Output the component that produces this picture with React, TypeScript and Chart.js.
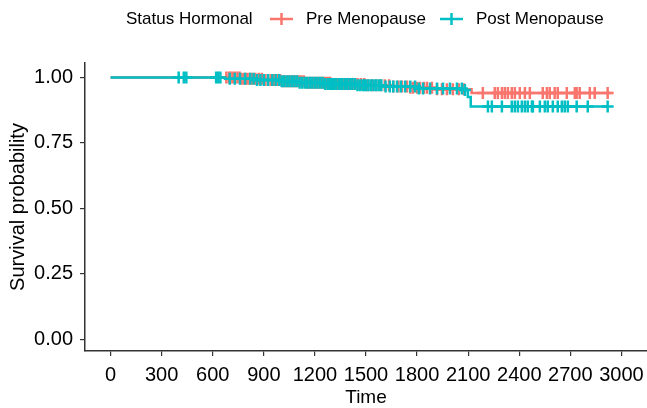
import React, { useEffect, useRef } from "react";
import { Chart, registerables } from "chart.js";

Chart.register(...registerables);

const legendTitle = "Status Hormonal";
const groupNames = ["Pre Menopause", "Post Menopause"];
const groupColors = ["#F8766D", "#00BFC4"];

const xTicks = [0, 300, 600, 900, 1200, 1500, 1800, 2100, 2400, 2700, 3000];
const yTicks = [0, 0.25, 0.5, 0.75, 1];

// Pre Menopause step curve
const preTimes = [0, 760, 900, 1000, 1150, 1300, 1500, 1650, 1750, 1900, 2120, 2942];
const preSurv = [1.0, 0.995, 0.99, 0.985, 0.98, 0.975, 0.97, 0.965, 0.96, 0.955, 0.94, 0.94];
const preCensor = [
  680, 695, 705, 718, 730, 745, 758, 770, 785, 800, 815, 830, 850, 870, 888, 905, 922, 940,
  960, 980, 995, 1010, 1025, 1040, 1052, 1065, 1078, 1090, 1105, 1120, 1135, 1150, 1165,
  1180, 1195, 1210, 1225, 1240, 1252, 1265, 1278, 1290, 1305, 1320, 1332, 1345, 1358, 1370,
  1385, 1400, 1415, 1430, 1450, 1470, 1490, 1510, 1535, 1560, 1585, 1610, 1635, 1660, 1690,
  1711, 1741, 1760, 1776, 1800, 1817, 1840, 1858, 1887, 1917, 1946, 1975, 2010, 2045, 2075,
  2186, 2256, 2274, 2298, 2315, 2333, 2356, 2374, 2403, 2433, 2462, 2538, 2562, 2579,
  2608, 2626, 2679, 2726, 2737, 2755, 2814, 2843, 2919,
];

// Post Menopause step curve
const postTimes = [0, 700, 850, 1000, 1100, 1250, 1450, 1600, 1800, 2080, 2098, 2115, 2920];
const postSurv = [1.0, 0.995, 0.99, 0.985, 0.98, 0.975, 0.97, 0.965, 0.958, 0.952, 0.925, 0.889, 0.889];
const postCensor = [
  400, 430, 445, 620, 632, 645, 700, 730, 760, 790, 820, 840, 860, 880, 900, 925, 950, 970,
  990, 1005, 1020, 1035, 1050, 1065, 1080, 1095, 1110, 1125, 1140, 1155, 1170, 1185, 1200,
  1215, 1230, 1245, 1260, 1275, 1290, 1300, 1310, 1325, 1340, 1350, 1360, 1375, 1390, 1405,
  1420, 1435, 1450, 1465, 1480, 1490, 1500, 1515, 1530, 1545, 1560, 1575, 1590, 1615, 1640,
  1660, 1682, 1705, 1730, 1760, 1788, 1810, 1835, 1876, 1917, 1952, 1993, 2034, 2063,
  2081, 2216, 2239, 2298, 2356, 2374, 2392, 2415, 2433, 2450, 2474, 2480, 2521, 2550,
  2567, 2597, 2626, 2650, 2667, 2685, 2737, 2802, 2919,
];

const FONT = "'Liberation Sans', Arial, sans-serif";

function survAt(times: number[], surv: number[], t: number) {
  let s = surv[0];
  for (let i = 0; i < times.length; i++) {
    if (times[i] <= t) s = surv[i];
  }
  return s;
}

const legendPlugin = {
  id: "kmLegend",
  afterDraw(chart: any) {
    const ctx = chart.ctx;
    ctx.save();
    ctx.font = `17px ${FONT}`;
    ctx.fillStyle = "#000";
    ctx.textBaseline = "middle";
    const cy = 19;
    ctx.fillText(legendTitle, 126, cy);
    const keys = [
      { kx: 270, tx: 306 },
      { kx: 440, tx: 476 },
    ];
    keys.forEach((k, i) => {
      ctx.strokeStyle = groupColors[i];
      ctx.lineWidth = 2.5;
      ctx.beginPath();
      ctx.moveTo(k.kx, cy);
      ctx.lineTo(k.kx + 23, cy);
      ctx.stroke();
      ctx.lineWidth = 2.5;
      ctx.beginPath();
      ctx.moveTo(k.kx + 11.5, cy - 6);
      ctx.lineTo(k.kx + 11.5, cy + 6);
      ctx.stroke();
      ctx.fillStyle = "#000";
      ctx.fillText(groupNames[i], k.tx, cy);
    });
    ctx.restore();
  },
};

export default function App() {
  const ref = useRef<HTMLCanvasElement>(null);
  useEffect(() => {
    if (!ref.current) return;
    const lineData = (times: number[], surv: number[]) => times.map((t, i) => ({ x: t, y: surv[i] }));
    const censorData = (c: number[], times: number[], surv: number[]) =>
      c.map((t) => ({ x: t, y: survAt(times, surv, t) }));
    const chart = new Chart(ref.current, {
      type: "line",
      data: {
        datasets: [
          {
            label: groupNames[0],
            data: lineData(preTimes, preSurv),
            borderColor: groupColors[0],
            borderWidth: 2.5,
            stepped: "before",
            pointRadius: 0,
            fill: false,
            order: 3,
          },
          {
            label: groupNames[1],
            data: lineData(postTimes, postSurv),
            borderColor: groupColors[1],
            borderWidth: 2.5,
            stepped: "before",
            pointRadius: 0,
            fill: false,
            order: 2,
          },
          {
            label: groupNames[0] + " censor",
            data: censorData(preCensor, preTimes, preSurv),
            showLine: false,
            pointStyle: "cross",
            pointRadius: 6,
            pointBorderWidth: 2.5,
            borderColor: groupColors[0],
            backgroundColor: groupColors[0],
            order: 1,
          },
          {
            label: groupNames[1] + " censor",
            data: censorData(postCensor, postTimes, postSurv),
            showLine: false,
            pointStyle: "cross",
            pointRadius: 6,
            pointBorderWidth: 2.5,
            borderColor: groupColors[1],
            backgroundColor: groupColors[1],
            order: 0,
          },
        ],
      },
      options: {
        responsive: false,
        animation: false,
        events: [],
        layout: { autoPadding: false, padding: { top: 63, right: 0, left: 0, bottom: 0 } },
        plugins: { legend: { display: false }, tooltip: { enabled: false } },
        scales: {
          x: {
            type: "linear",
            min: -150,
            max: 3150,
            afterBuildTicks: (s: any) => {
              s.ticks = xTicks.map((v) => ({ value: v }));
            },
            afterFit: (s: any) => {
              s.height = 57;
              s.paddingLeft = 0;
              s.paddingRight = 0;
            },
            ticks: {
              autoSkip: false,
              maxRotation: 0,
              padding: 7,
              color: "#000",
              font: { family: FONT, size: 20 },
              callback: (v: any) => String(v),
            },
            grid: { drawOnChartArea: false, drawTicks: true, tickLength: 5, color: "#333", lineWidth: 1.2 },
            border: { display: true, color: "#333", width: 1.5 },
            title: {
              display: true,
              text: "Time",
              color: "#000",
              font: { family: FONT, size: 19, lineHeight: 1 },
              padding: { top: 0, bottom: 1 },
            },
          },
          y: {
            type: "linear",
            min: -0.045,
            max: 1.055,
            afterBuildTicks: (s: any) => {
              s.ticks = yTicks.map((v) => ({ value: v }));
            },
            afterFit: (s: any) => {
              s.width = 85;
              s.paddingTop = 0;
              s.paddingBottom = 0;
            },
            ticks: {
              padding: 7,
              color: "#000",
              font: { family: FONT, size: 20 },
              callback: (v: any) => Number(v).toFixed(2),
            },
            grid: { drawOnChartArea: false, drawTicks: true, tickLength: 5, color: "#333", lineWidth: 1.2 },
            border: { display: true, color: "#333", width: 1.5 },
            title: {
              display: true,
              text: "Survival probability",
              color: "#000",
              font: { family: FONT, size: 20, lineHeight: 1 },
              padding: { top: 8, bottom: 0 },
            },
          },
        },
      },
      plugins: [legendPlugin],
    } as any);
    return () => chart.destroy();
  }, []);
  return (
    <div style={{ position: "fixed", left: 0, top: 0, width: 647, height: 408, background: "#fff" }}>
      <canvas ref={ref} width={647} height={408} style={{ width: 647, height: 408, display: "block" }} />
    </div>
  );
}
